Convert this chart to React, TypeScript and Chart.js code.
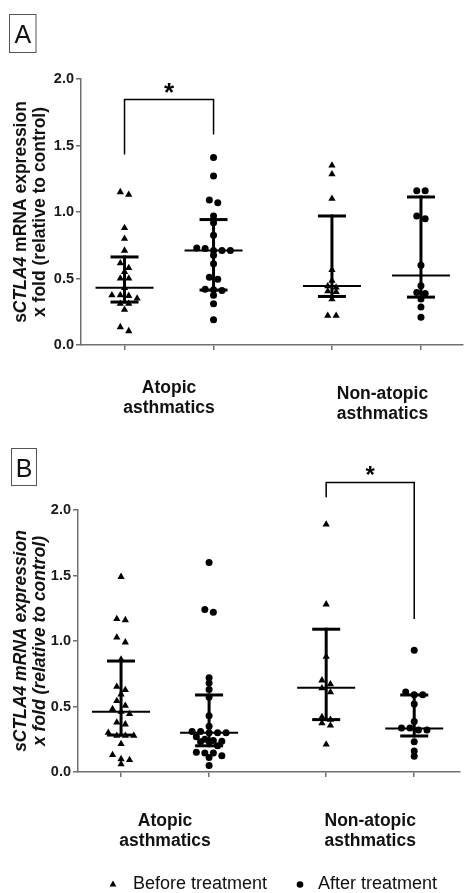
import React, { useEffect, useRef } from 'react';
import { Chart, registerables } from 'chart.js';
import { drawPoint } from 'chart.js/helpers';

Chart.register(...registerables);

const FONT = '"Liberation Sans", Arial, Helvetica, sans-serif';
const INK = '#000000';
const AXIS = '#707070';
const W = 467;

// ---------- categories / labels ----------
const groupLabelLines = [['Atopic', 'asthmatics'], ['Non-atopic', 'asthmatics']];
const treatmentNames = ['Before treatment', 'After treatment'];
const columnSlots = [1, 2, 3.33, 4.33]; // atopic-before, atopic-after, non-atopic-before, non-atopic-after
const yTickValues = [0, 0.5, 1.0, 1.5, 2.0];
const yTitleLine1 = ['s', 'CTLA4', ' mRNA expression'];
const yTitleLine2 = 'x fold (relative to control)';

// ---------- Panel A values ----------
const aAtopicBefore = [1.15, 1.13, 0.88, 0.80, 0.71, 0.615, 0.58, 0.55, 0.50, 0.50, 0.43, 0.375, 0.37, 0.35, 0.375, 0.31, 0.31, 0.265, 0.135, 0.105];
const aAtopicAfter = [1.41, 1.27, 1.09, 1.07, 0.97, 0.92, 0.825, 0.73, 0.725, 0.71, 0.71, 0.71, 0.675, 0.61, 0.51, 0.495, 0.42, 0.415, 0.41, 0.375, 0.31, 0.19];
const aNonAtopicBefore = [1.35, 1.285, 1.10, 0.565, 0.483, 0.443, 0.433, 0.405, 0.40, 0.345, 0.22, 0.22];
const aNonAtopicAfter = [1.16, 1.16, 0.97, 0.95, 0.60, 0.445, 0.395, 0.388, 0.345, 0.285, 0.208];
const aMedian = [0.43, 0.71, 0.443, 0.523];
const aQ1 = [0.323, 0.413, 0.365, 0.36];
const aQ3 = [0.662, 0.943, 0.97, 1.113];
const aBracket = [1.845, 1.433, 1.583]; // top, left leg end, right leg end (columns 0 -> 1)

// ---------- Panel B values ----------
const bAtopicBefore = [1.49, 1.168, 1.16, 1.028, 0.99, 0.86, 0.651, 0.626, 0.593, 0.542, 0.506, 0.481, 0.46, 0.443, 0.379, 0.364, 0.30, 0.277, 0.277, 0.277, 0.214, 0.13, 0.099, 0.092, 0.059];
const bAtopicAfter = [1.60, 1.24, 1.22, 0.72, 0.68, 0.63, 0.57, 0.43, 0.35, 0.31, 0.31, 0.30, 0.30, 0.30, 0.27, 0.25, 0.24, 0.235, 0.23, 0.23, 0.20, 0.15, 0.145, 0.145, 0.125, 0.11, 0.05];
const bNonAtopicBefore = [1.89, 1.28, 0.88, 0.70, 0.67, 0.64, 0.61, 0.42, 0.40, 0.372, 0.356, 0.21];
const bNonAtopicAfter = [0.93, 0.61, 0.59, 0.59, 0.52, 0.385, 0.335, 0.335, 0.32, 0.32, 0.23, 0.16, 0.12];
const bMedian = [0.46, 0.30, 0.644, 0.333];
const bQ1 = [0.282, 0.20, 0.40, 0.275];
const bQ3 = [0.847, 0.588, 1.09, 0.588];
const bBracket = [2.21, 2.097, 1.168]; // top, left leg end, right leg end (columns 2 -> 3)

type Geo = {
  top: number; h: number; axisLeft: number; plotTop: number; plotBottom: number; plotRight: number;
  xMax: number; labelBase: number[]; nonAtopicShift: number[]; titleBase: number[];
  box: number[]; letterBase: number; star: number;
};

type Panel = {
  letter: string;
  columns: number[][];
  median: number[]; q1: number[]; q3: number[];
  bracket: number[]; bracketCols: number[];
  italicTitle: boolean; legend: boolean;
  geo: Geo;
};

const X_MIN = 0.511;

const panels: Panel[] = [
  {
    letter: 'A',
    columns: [aAtopicBefore, aAtopicAfter, aNonAtopicBefore, aNonAtopicAfter],
    median: aMedian, q1: aQ1, q3: aQ3,
    bracket: aBracket, bracketCols: [0, 1],
    italicTitle: false, legend: false,
    geo: {
      top: 0, h: 440, axisLeft: 81, plotTop: 79, plotBottom: 345, plotRight: 467, xMax: 4.8,
      labelBase: [48.3, 68.3], nonAtopicShift: [6, 5.7], titleBase: [25.5, 45],
      box: [9.5, 14.5, 26.5, 38], letterBase: 43.3, star: 26,
    },
  },
  {
    letter: 'B',
    columns: [bAtopicBefore, bAtopicAfter, bNonAtopicBefore, bNonAtopicAfter],
    median: bMedian, q1: bQ1, q3: bQ3,
    bracket: bBracket, bracketCols: [2, 3],
    italicTitle: true, legend: true,
    geo: {
      top: 440, h: 453, axisLeft: 78, plotTop: 70, plotBottom: 332, plotRight: 460, xMax: 4.85,
      labelBase: [54, 74], nonAtopicShift: [0, 0], titleBase: [25.5, 45],
      box: [11.5, 8.5, 25, 37], letterBase: 36.7, star: 24,
    },
  },
];

// simple row-based beeswarm (layout of tied values side by side)
function swarm(values: number[], slot: number, pxPerX: number, pxPerY: number) {
  const sorted = [...values].sort((a, b) => b - a);
  const rows: number[][] = [];
  for (const v of sorted) {
    const row = rows[rows.length - 1];
    if (row && (row[0] - v) * pxPerY < 5) row.push(v);
    else rows.push([v]);
  }
  const spacing = 8.5;
  const out: { x: number; y: number }[] = [];
  rows.forEach((row) => {
    row.forEach((v, k) => {
      out.push({ x: slot + ((k - (row.length - 1) / 2) * spacing) / pxPerX, y: v });
    });
  });
  return out;
}

function seg(ctx: CanvasRenderingContext2D, x1: number, y1: number, x2: number, y2: number, w: number) {
  ctx.lineWidth = w;
  ctx.beginPath();
  ctx.moveTo(x1, y1);
  ctx.lineTo(x2, y2);
  ctx.stroke();
}

function makeOverlay(p: Panel) {
  return {
    id: 'overlay' + p.letter,
    afterDatasetsDraw(chart: any) {
      const { ctx } = chart;
      const x = chart.scales.x;
      const y = chart.scales.y;
      ctx.save();
      ctx.strokeStyle = INK;
      columnSlots.forEach((slot, i) => {
        const cx = x.getPixelForValue(slot);
        const ym = y.getPixelForValue(p.median[i]);
        const y1 = y.getPixelForValue(p.q1[i]);
        const y3 = y.getPixelForValue(p.q3[i]);
        seg(ctx, cx, y3 - 1.5, cx, y1 + 1.5, 3);
        seg(ctx, cx - 14, y1, cx + 14, y1, 3);
        seg(ctx, cx - 14, y3, cx + 14, y3, 3);
        seg(ctx, cx - 29, ym, cx + 29, ym, 2);
      });
      ctx.restore();
    },
    afterDraw(chart: any) {
      const { ctx, chartArea } = chart;
      const x = chart.scales.x;
      const y = chart.scales.y;
      const g = p.geo;
      ctx.save();
      // significance bracket
      const [c0, c1] = p.bracketCols;
      const bx0 = x.getPixelForValue(columnSlots[c0]);
      const bx1 = x.getPixelForValue(columnSlots[c1]);
      const byTop = y.getPixelForValue(p.bracket[0]);
      const byL = y.getPixelForValue(p.bracket[1]);
      const byR = y.getPixelForValue(p.bracket[2]);
      ctx.strokeStyle = INK;
      ctx.lineWidth = 1.5;
      ctx.beginPath();
      ctx.moveTo(bx0, byL);
      ctx.lineTo(bx0, byTop);
      ctx.lineTo(bx1, byTop);
      ctx.lineTo(bx1, byR);
      ctx.stroke();
      // asterisk
      ctx.fillStyle = INK;
      ctx.font = `bold ${g.star}px ${FONT}`;
      ctx.textAlign = 'center';
      ctx.textBaseline = 'alphabetic';
      const m = ctx.measureText('*');
      const starCenter = byTop - 12;
      const base = starCenter + (m.actualBoundingBoxAscent - m.actualBoundingBoxDescent) / 2;
      ctx.fillText('*', (bx0 + bx1) / 2, base);

      // y axis title (rotated)
      const cy = (chartArea.top + chartArea.bottom) / 2;
      const titleFont = (it: boolean) => `${it ? 'italic ' : ''}bold 17.5px ${FONT}`;
      const parts1 = yTitleLine1.map((t, i) => ({ t, it: p.italicTitle || i === 1 }));
      const drawRotLine = (parts: { t: string; it: boolean }[], bx: number) => {
        let total = 0;
        parts.forEach((pt) => { ctx.font = titleFont(pt.it); total += ctx.measureText(pt.t).width; });
        ctx.save();
        ctx.translate(bx, cy);
        ctx.rotate(-Math.PI / 2);
        ctx.textAlign = 'left';
        ctx.textBaseline = 'alphabetic';
        let cur = -total / 2;
        parts.forEach((pt) => {
          ctx.font = titleFont(pt.it);
          ctx.fillText(pt.t, cur, 0);
          cur += ctx.measureText(pt.t).width;
        });
        ctx.restore();
      };
      ctx.fillStyle = '#111';
      drawRotLine(parts1, g.titleBase[0]);
      drawRotLine([{ t: yTitleLine2, it: p.italicTitle }], g.titleBase[1]);

      // group labels
      ctx.font = `bold 17.5px ${FONT}`;
      ctx.textAlign = 'center';
      ctx.textBaseline = 'alphabetic';
      groupLabelLines.forEach((lines, gi) => {
        const gx = (x.getPixelForValue(columnSlots[gi * 2]) + x.getPixelForValue(columnSlots[gi * 2 + 1])) / 2;
        const dx = gi === 1 ? g.nonAtopicShift[0] : 0;
        const dy = gi === 1 ? g.nonAtopicShift[1] : 0;
        lines.forEach((ln, li) => {
          ctx.fillText(ln, gx + dx, chartArea.bottom + g.labelBase[li] + dy);
        });
      });

      // panel letter box
      const [rx, ry, rw, rh] = g.box;
      ctx.strokeStyle = '#555';
      ctx.lineWidth = 1;
      ctx.strokeRect(rx, ry, rw, rh);
      ctx.fillStyle = '#111';
      ctx.font = `25px ${FONT}`;
      ctx.textAlign = 'center';
      ctx.fillText(p.letter, rx + rw / 2, g.letterBase);

      // legend
      if (p.legend) {
        const items = [
          { style: 'triangle', r: 3.9, mx: 113, tx: 133 },
          { style: 'circle', r: 3.3, mx: 300, tx: 318 },
        ];
        const baseY = 893 - g.top - 4;
        items.forEach((it, i) => {
          ctx.fillStyle = INK;
          drawPoint(ctx, { pointStyle: it.style, radius: it.r, rotation: 0, borderWidth: 0 } as any, it.mx, baseY - 4.5);
          ctx.fillStyle = '#111';
          ctx.font = `18px ${FONT}`;
          ctx.textAlign = 'left';
          ctx.textBaseline = 'alphabetic';
          ctx.fillText(treatmentNames[i], it.tx, baseY);
        });
      }
      ctx.restore();
    },
  };
}

function buildConfig(p: Panel): any {
  const g = p.geo;
  const pxPerX = (g.plotRight - g.axisLeft) / (g.xMax - X_MIN);
  const pxPerY = (g.plotBottom - g.plotTop) / 2;
  const datasets = p.columns.map((vals, i) => {
    const before = i % 2 === 0;
    return {
      type: 'scatter',
      label: treatmentNames[i % 2],
      data: swarm(vals, columnSlots[i], pxPerX, pxPerY),
      pointStyle: before ? 'triangle' : 'circle',
      pointRadius: before ? 4.2 : 3.5,
      pointHoverRadius: before ? 4.2 : 3.5,
      backgroundColor: INK,
      borderColor: INK,
      borderWidth: 0,
      clip: false,
    };
  });
  const gridOpts = { display: true, drawOnChartArea: false, drawTicks: true, tickLength: 5, color: AXIS, lineWidth: 1.5 };
  const borderOpts = { display: true, color: AXIS, width: 1.5 };
  return {
    type: 'scatter',
    data: { datasets },
    options: {
      responsive: false,
      animation: false,
      devicePixelRatio: 1,
      events: [],
      layout: { padding: { top: g.plotTop, right: W - g.plotRight, left: 0, bottom: 0 } },
      plugins: { legend: { display: false }, tooltip: { enabled: false } },
      scales: {
        x: {
          type: 'linear',
          min: X_MIN,
          max: g.xMax,
          afterBuildTicks: (s: any) => { s.ticks = columnSlots.map((v) => ({ value: v })); },
          afterFit: (s: any) => { s.height = g.h - g.plotBottom; },
          grid: gridOpts,
          border: borderOpts,
          ticks: { callback: () => '', padding: 0 },
        },
        y: {
          type: 'linear',
          min: 0,
          max: 2,
          afterBuildTicks: (s: any) => { s.ticks = yTickValues.map((v) => ({ value: v })); },
          afterFit: (s: any) => { s.width = g.axisLeft; },
          grid: gridOpts,
          border: borderOpts,
          ticks: {
            callback: (v: any) => Number(v).toFixed(1),
            font: { family: FONT, size: 14.5, weight: 'bold' },
            color: '#1a1a1a',
            padding: 2,
          },
        },
      },
    },
    plugins: [makeOverlay(p)],
  };
}

function PanelChart({ panel }: { panel: Panel }) {
  const ref = useRef<HTMLCanvasElement | null>(null);
  useEffect(() => {
    if (!ref.current) return;
    const chart = new Chart(ref.current, buildConfig(panel));
    return () => chart.destroy();
  }, [panel]);
  return (
    <canvas
      ref={ref}
      width={W}
      height={panel.geo.h}
      style={{ position: 'absolute', left: 0, top: panel.geo.top, width: W, height: panel.geo.h, display: 'block' }}
    />
  );
}

export default function App() {
  return (
    <div style={{ position: 'fixed', left: 0, top: 0, width: W, height: 893, overflow: 'hidden', background: '#fff' }}>
      {panels.map((p) => (
        <PanelChart key={p.letter} panel={p} />
      ))}
    </div>
  );
}
